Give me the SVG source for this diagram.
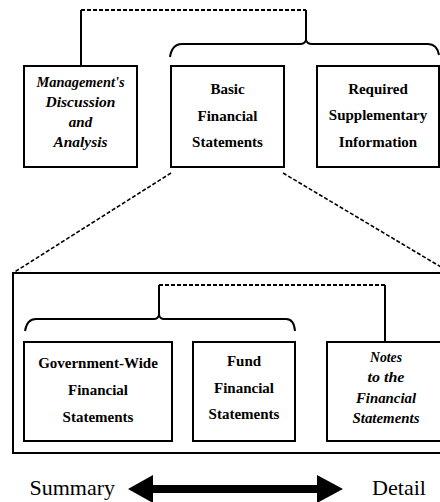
<svg xmlns="http://www.w3.org/2000/svg" width="440" height="502" viewBox="0 0 440 502">
<style>
.box{fill:#fff;stroke:#000;stroke-width:2}
.frame{fill:none;stroke:#000;stroke-width:2}
.ln{fill:none;stroke:#000;stroke-width:2}
.dash{fill:none;stroke:#000;stroke-width:2;stroke-dasharray:4 2}
.ddash{fill:none;stroke:#000;stroke-width:1.6;stroke-dasharray:4 2}
.b{font-family:"Liberation Serif","Times New Roman",serif;font-weight:bold;font-size:15px;text-anchor:middle;fill:#000}
.s{font-family:"Liberation Serif","Times New Roman",serif;font-style:italic;font-weight:bold;font-size:15px;text-anchor:middle;fill:#000}
.r{font-family:"Liberation Serif","Times New Roman",serif;font-size:22px;fill:#000}
</style>
<rect width="440" height="502" fill="#fff"/>
<g id="connectors">
<path class="dash" d="M81,10 H306"/>
<path class="ln" d="M81,10 V66"/>
<path class="ln" d="M306,10 V40"/>
<path class="ln" d="M170,57 Q172,44 182,44 L300,44 Q305,44 306,40 Q307,44 312,44 L428,44 Q437,44 439,55"/>
<path class="ddash" d="M171,173 L13,273"/>
<path class="ddash" d="M283,173 L441,267"/>
<path class="dash" d="M159,285 H385"/>
<path class="ln" d="M159,285 V315"/>
<path class="ln" d="M385,285 V342"/>
<path class="ln" d="M25,331 Q27,319 36,319 L154,319 Q158,319 159,315 Q160,319 164,319 L286,319 Q294,319 295,331"/>
</g>
<g id="frame">
<rect class="frame" x="13" y="273" width="440" height="180"/>
</g>
<g id="mda">
<rect class="box" x="24" y="66" width="113" height="101"/>
<text class="s" x="80.5" y="87" textLength="88" lengthAdjust="spacingAndGlyphs">Management's</text>
<text class="s" x="80.5" y="107" textLength="70" lengthAdjust="spacingAndGlyphs">Discussion</text>
<text class="s" x="80.5" y="127">and</text>
<text class="s" x="80.5" y="147" textLength="54" lengthAdjust="spacingAndGlyphs">Analysis</text>
</g>
<g id="basic">
<rect class="box" x="171" y="66" width="113" height="101"/>
<text class="b" x="227.5" y="94">Basic</text>
<text class="b" x="227.5" y="120.5">Financial</text>
<text class="b" x="227.5" y="146.5">Statements</text>
</g>
<g id="rsi">
<rect class="box" x="317" y="66" width="122" height="101"/>
<text class="b" x="378" y="93.5">Required</text>
<text class="b" x="378" y="120">Supplementary</text>
<text class="b" x="378" y="146.5">Information</text>
</g>
<g id="govwide">
<rect class="box" x="24" y="342" width="148" height="99"/>
<text class="b" x="98" y="368">Government-Wide</text>
<text class="b" x="98" y="395">Financial</text>
<text class="b" x="98" y="422">Statements</text>
</g>
<g id="fund">
<rect class="box" x="193" y="342" width="102" height="99"/>
<text class="b" x="244" y="366">Fund</text>
<text class="b" x="244" y="393">Financial</text>
<text class="b" x="244" y="419">Statements</text>
</g>
<g id="notes">
<rect class="box" x="327" y="342" width="120" height="99"/>
<text class="s" x="386" y="361.5" textLength="32" lengthAdjust="spacingAndGlyphs">Notes</text>
<text class="s" x="386" y="381.5" textLength="37" lengthAdjust="spacingAndGlyphs">to the</text>
<text class="s" x="386" y="403" textLength="60" lengthAdjust="spacingAndGlyphs">Financial</text>
<text class="s" x="386" y="423" textLength="67" lengthAdjust="spacingAndGlyphs">Statements</text>
</g>
<g id="scale">
<polygon fill="#000" points="128,489 153,475 153,485 317,485 317,475 343,489 317,503 317,493 153,493 153,503"/>
<text class="r" x="29.5" y="495" textLength="85.5" lengthAdjust="spacingAndGlyphs">Summary</text>
<text class="r" x="372" y="495" textLength="54" lengthAdjust="spacingAndGlyphs">Detail</text>
</g>
</svg>
